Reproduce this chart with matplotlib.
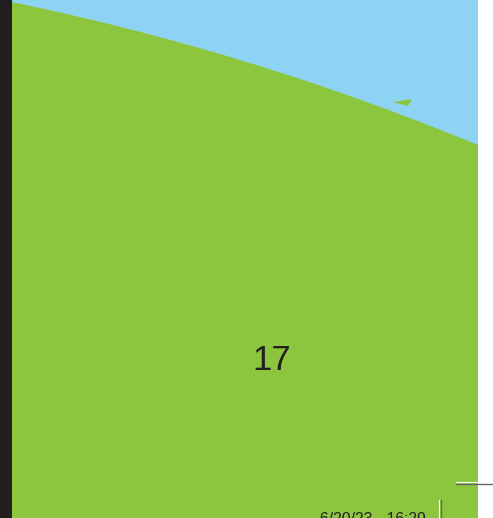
import matplotlib
matplotlib.use("Agg")
import matplotlib.pyplot as plt
from matplotlib.patches import Rectangle, Polygon
from matplotlib.lines import Line2D

# Data
values = [17, 83]
labels = ["17", ""]
colors = ["#8cc63f", "#8cc63f"]
slug_text = "6/20/23 - 16:29"

W, H = 493, 518
fig = plt.figure(figsize=(W / 100, H / 100), dpi=100)
fig.patch.set_facecolor("white")

# dark left stripe
fig.patches.append(Rectangle((0, 0), 12 / W, 1, transform=fig.transFigure,
                             facecolor="#231f20", edgecolor="none", zorder=0))

x0, x1 = 12, 478
ax = fig.add_axes([x0 / W, 0, (x1 - x0) / W, 1])
ax.set_facecolor("#8ed3f4")

cx, cy, R = -510.6, 2535.9, 2587.2
total = sum(values)

def fmt(p):
    v = int(round(p * total / 100.0))
    return str(v) if v == values[0] else ""

wedges, texts, autotexts = ax.pie(
    values, colors=colors, startangle=-100.83, counterclock=True,
    center=(cx, cy), radius=R, frame=True, autopct=fmt, pctdistance=0.8937,
    wedgeprops=dict(linewidth=0),
    textprops=dict(fontsize=25, color="#231f20", family="Liberation Sans"))
for w in wedges:
    w.set_clip_on(True)
    w.set_clip_path(ax.patch)

ax.set_xlim(x0, x1)
ax.set_ylim(H, 0)
ax.set_aspect("auto")
ax.set_xticks([])
ax.set_yticks([])
for s in ax.spines.values():
    s.set_visible(False)

# small green pointer artifact
ax.add_patch(Polygon([(393, 102), (412, 99), (408, 106)], closed=True,
                     facecolor="#8cc63f", edgecolor="none", zorder=5))

# crop marks (figure pixel coords, y from top)
def fy(y):
    return 1 - y / H

fig.lines.append(Line2D([456 / W, 1], [fy(482), fy(482)], transform=fig.transFigure,
                        color="white", lw=0.8, zorder=10))
fig.lines.append(Line2D([456 / W, 1], [fy(484), fy(484)], transform=fig.transFigure,
                        color="#666666", lw=1.0, zorder=10))
fig.lines.append(Line2D([439 / W, 439 / W], [fy(500), 0], transform=fig.transFigure,
                        color="white", lw=0.8, zorder=10))
fig.lines.append(Line2D([440.5 / W, 440.5 / W], [fy(500), 0], transform=fig.transFigure,
                        color="#666666", lw=1.0, zorder=10))

fig.text(320 / W, fy(524), slug_text, fontsize=11.3, color="#231f20",
         family="Liberation Sans", ha="left", va="baseline")

fig.savefig("out.png", dpi=100)
